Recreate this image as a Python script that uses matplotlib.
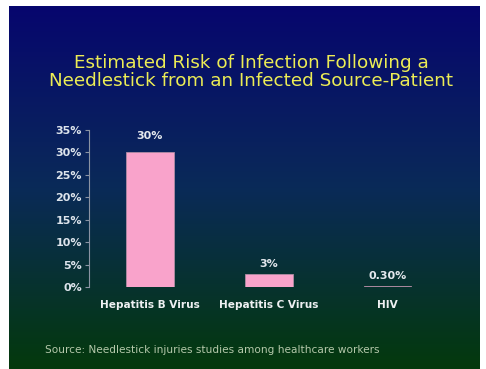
import numpy as np
import matplotlib.pyplot as plt
from matplotlib.colors import LinearSegmentedColormap

# Data
categories = ['Hepatitis B Virus', 'Hepatitis C Virus', 'HIV']
risk = [30, 3, 0.3]
value_labels = ['30%', '3%', '0.30%']
y_ticks = [0, 5, 10, 15, 20, 25, 30, 35]

W, H = 486, 369
fig = plt.figure(figsize=(W / 100, H / 100), dpi=100)
fig.patch.set_facecolor('white')

# Slide background gradient (blue at top, green at bottom)
bg = fig.add_axes([9 / W, 0, 470 / W, 363 / H])
bg.set_axis_off()
cmap = LinearSegmentedColormap.from_list('slide', ['#06066e', '#0a2a58', '#04390c'])
grad = np.linspace(0, 1, 256).reshape(-1, 1)
bg.imshow(grad, aspect='auto', cmap=cmap, extent=[0, 1, 0, 1], origin='upper')

# Title
fig.text(251 / W, 1 - 63 / H, 'Estimated Risk of Infection Following a', color='#ecec55',
         fontsize=13.2, ha='center', va='center')
fig.text(251 / W, 1 - 81.5 / H, 'Needlestick from an Infected Source-Patient', color='#ecec55',
         fontsize=13.2, ha='center', va='center')

# Chart
ax = fig.add_axes([89 / W, 82 / H, 370 / W, 157 / H])
ax.set_facecolor('none')
x = np.arange(len(categories))
ax.bar(x, risk, width=0.4, color='#f9a3cb', edgecolor='#b08ca4', linewidth=0.6)

ax.set_xlim(-0.513, 2.6)
ax.set_ylim(0, 35)
ax.set_yticks(y_ticks)
ax.set_yticklabels([f'{t}%' for t in y_ticks])
ax.set_xticks(x)
ax.set_xticklabels(categories)

for s in ['top', 'right', 'bottom']:
    ax.spines[s].set_visible(False)
ax.spines['left'].set_color('#8a93a3')
ax.spines['left'].set_linewidth(0.8)
ax.tick_params(axis='y', colors='#8a93a3', length=3, width=0.8, pad=2,
               labelcolor='#dde4ec', labelsize=8)
ax.tick_params(axis='x', length=0, pad=9, labelcolor='#eef0f2', labelsize=7.6)
for lab in ax.get_yticklabels() + ax.get_xticklabels():
    lab.set_fontweight('bold')

offsets = [8.5, 3.5, 3]
for xi, v, lab, off in zip(x, risk, value_labels, offsets):
    ax.annotate(lab, (xi, v), xytext=(0, off), textcoords='offset points',
                ha='center', va='bottom', color='#e4e8ee', fontsize=8, fontweight='bold')

# Source
fig.text(45 / W, 1 - 350 / H, 'Source: Needlestick injuries studies among healthcare workers',
         color='#b4c8aa', fontsize=7.6, ha='left', va='center')

fig.savefig('out.png', dpi=100, facecolor=fig.get_facecolor())
